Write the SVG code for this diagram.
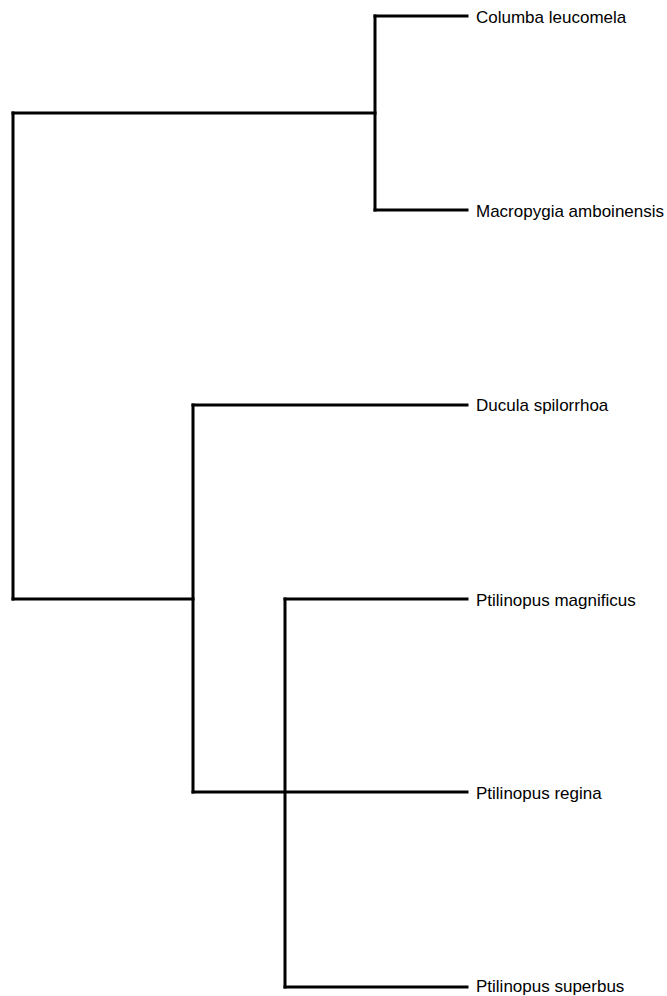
<svg xmlns="http://www.w3.org/2000/svg" width="667" height="996" viewBox="0 0 667 996">
<style>
.e{fill:none;stroke:#000;stroke-width:3;stroke-linecap:square;stroke-linejoin:miter}
.t{font-family:"Liberation Sans",Arial,sans-serif;font-size:17px;fill:#000}
</style>
<rect width="667" height="996" fill="#fff"/>
<g id="connectors">
<path class="e" d="M13,113 V599"/>
<path class="e" d="M13,113 H375"/>
<path class="e" d="M13,599 H193"/>
<path class="e" d="M375,16 V210"/>
<path class="e" d="M375,16 H467"/>
<path class="e" d="M375,210 H467"/>
<path class="e" d="M193,405 V792"/>
<path class="e" d="M193,405 H467"/>
<path class="e" d="M193,792 H467"/>
<path class="e" d="M285,599 V987"/>
<path class="e" d="M285,599 H467"/>
<path class="e" d="M285,987 H467"/>
</g>
<g id="leaf-columba"><text class="t" x="476" y="22.5">Columba leucomela</text></g>
<g id="leaf-macropygia"><text class="t" x="476" y="216.5">Macropygia amboinensis</text></g>
<g id="leaf-ducula"><text class="t" x="476" y="411">Ducula spilorrhoa</text></g>
<g id="leaf-magnificus"><text class="t" x="476" y="605.5">Ptilinopus magnificus</text></g>
<g id="leaf-regina"><text class="t" x="476" y="798.5">Ptilinopus regina</text></g>
<g id="leaf-superbus"><text class="t" x="476" y="992">Ptilinopus superbus</text></g>
</svg>
